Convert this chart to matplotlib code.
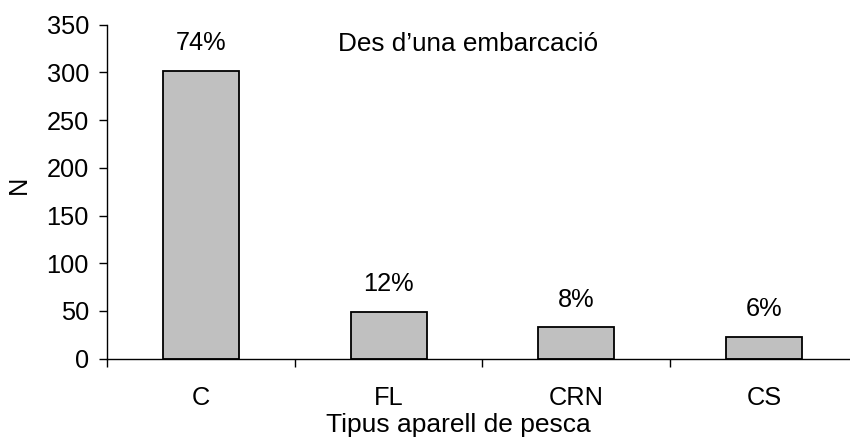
import matplotlib
matplotlib.use("Agg")
import matplotlib.pyplot as plt

categories = ["C", "FL", "CRN", "CS"]
values = [302, 49, 33, 23]
pct_labels = ["74%", "12%", "8%", "6%"]
title_text = "Des d\u2019una embarcació"
xlabel = "Tipus aparell de pesca"
ylabel = "N"

plt.rcParams['font.family'] = ['Liberation Sans', 'DejaVu Sans']
FS = 18.3

fig = plt.figure(figsize=(8.5, 4.45), dpi=100)
ax = fig.add_axes([107/850, 1-358.7/445, 743/850, 334/445])

x = list(range(len(categories)))
ax.bar(x, values, width=0.405, color="#C0C0C0", edgecolor="black", linewidth=1.3, zorder=2)

for xi, v, lab in zip(x, values, pct_labels):
    ax.text(xi, v + 21.5, lab, ha="center", va="baseline", fontsize=FS)

ax.text(1.423, 322.5, title_text, ha="center", va="baseline", fontsize=18.8)

ax.set_xlim(-0.5, -0.5 + 743/187.7)
ax.set_ylim(0, 350)
ax.set_yticks(range(0, 351, 50))
ax.tick_params(axis="y", labelsize=FS, length=6, width=1, direction="out", pad=7)

ax.set_xticks([-0.5, 0.5, 1.5, 2.5])
ax.set_xticklabels([])
ax.tick_params(axis="x", which="major", length=6, width=1, direction="out")
ax.set_xticks(x, minor=True)
ax.set_xticklabels(categories, minor=True)
ax.tick_params(axis="x", which="minor", length=0, labelsize=FS, pad=19.5)

for s in ["top", "right"]:
    ax.spines[s].set_visible(False)
for s in ["left", "bottom"]:
    ax.spines[s].set_linewidth(1.0)

ax.set_xlabel(xlabel, fontsize=19)
ax.xaxis.set_label_coords((458 - 107) / 743, -0.162)
ax.set_ylabel(ylabel, fontsize=FS)
ax.yaxis.set_label_coords(-0.103, 0.52)

fig.savefig("out.png", dpi=100)
